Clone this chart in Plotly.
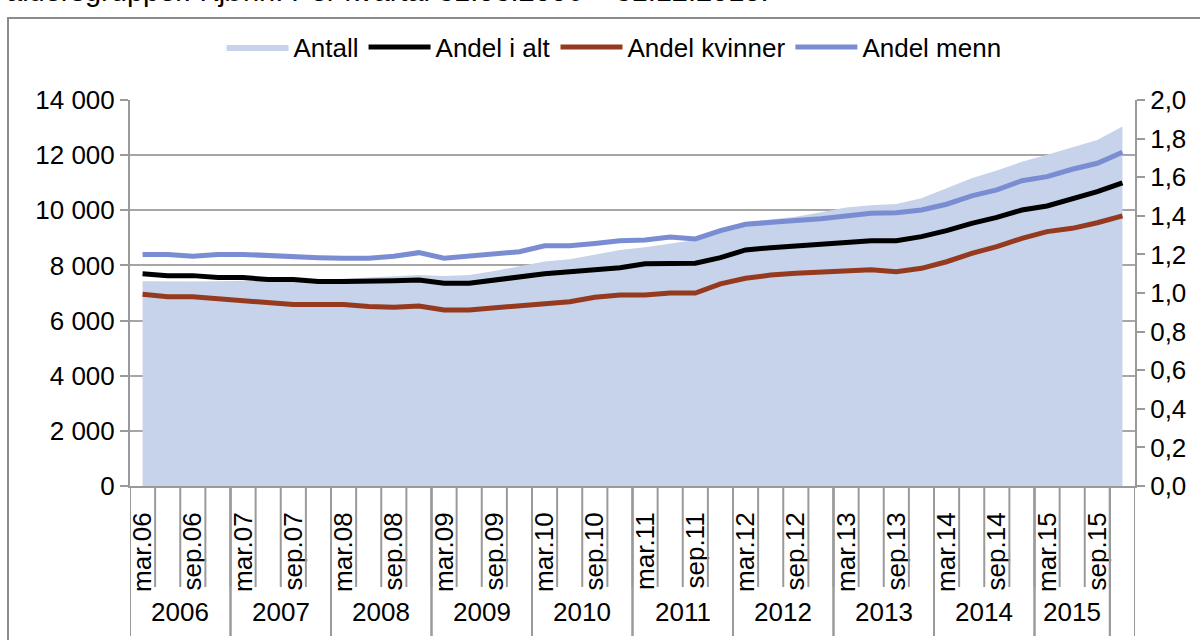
import plotly.graph_objects as go

# ---------------- data ----------------
quarters = [
    "mar.06", "jun.06", "sep.06", "des.06",
    "mar.07", "jun.07", "sep.07", "des.07",
    "mar.08", "jun.08", "sep.08", "des.08",
    "mar.09", "jun.09", "sep.09", "des.09",
    "mar.10", "jun.10", "sep.10", "des.10",
    "mar.11", "jun.11", "sep.11", "des.11",
    "mar.12", "jun.12", "sep.12", "des.12",
    "mar.13", "jun.13", "sep.13", "des.13",
    "mar.14", "jun.14", "sep.14", "des.14",
    "mar.15", "jun.15", "sep.15", "des.15",
]
year_group = (
    ["2006"] * 4 + ["2007"] * 4 + ["2008"] * 4 + ["2009"] * 4 + ["2010"] * 4
    + ["2011"] * 4 + ["2012"] * 4 + ["2013"] * 4 + ["2014"] * 4
    + ["2015"] * 3 + [""]
)
shown_ticks = [q for q in quarters if q.startswith("mar") or q.startswith("sep")]

antall = [
    7430, 7420, 7420, 7430, 7440, 7450, 7470, 7490, 7520, 7560,
    7620, 7650, 7620, 7650, 7800, 7980, 8140, 8220, 8400, 8560,
    8660, 8800, 8920, 9220, 9550, 9670, 9770, 9930, 10100, 10180,
    10230, 10435, 10800, 11160, 11440, 11760, 12010, 12290, 12550, 13040,
]
andel_alt = [
    1.10, 1.09, 1.09, 1.08, 1.08, 1.07, 1.07, 1.06, 1.06, 1.06,
    1.064, 1.067, 1.05, 1.05, 1.067, 1.088, 1.10, 1.11, 1.119, 1.131,
    1.152, 1.154, 1.154, 1.183, 1.223, 1.235, 1.244, 1.254, 1.264, 1.271,
    1.271, 1.292, 1.323, 1.361, 1.392, 1.43, 1.451, 1.49, 1.525, 1.571,
]
andel_kvinner = [
    0.993, 0.98, 0.98, 0.97, 0.96, 0.95, 0.94, 0.94, 0.94, 0.93,
    0.926, 0.933, 0.912, 0.912, 0.922, 0.933, 0.943, 0.955, 0.978, 0.99,
    0.99, 1.00, 1.00, 1.047, 1.076, 1.093, 1.102, 1.11, 1.114, 1.12,
    1.11, 1.128, 1.162, 1.205, 1.24, 1.283, 1.318, 1.335, 1.364, 1.40,
]
andel_menn = [
    1.20, 1.20, 1.19, 1.20, 1.20, 1.193, 1.19, 1.183, 1.18, 1.18,
    1.19, 1.209, 1.18, 1.19, 1.20, 1.214, 1.245, 1.245, 1.257, 1.271,
    1.275, 1.29, 1.28, 1.323, 1.356, 1.368, 1.376, 1.385, 1.402, 1.413,
    1.416, 1.43, 1.46, 1.503, 1.534, 1.582, 1.603, 1.641, 1.672, 1.729,
]

title_text = "aldersgrupper. Kjønn. Per kvartal 31.03.2006 – 31.12.2015."

# ---------------- styling ----------------
FONT = "Liberation Sans, Arial, sans-serif"
FS = 26
AXIS_GRAY = "#9A9A9A"
AREA_COLOR = "#C6D3EA"
C_ALT = "#000000"
C_KV = "#953A1E"
C_MENN = "#7A8DD2"

x_idx = list(range(len(quarters)))

fig = go.Figure()
fig.add_trace(go.Scatter(
    x=x_idx, y=antall, name="Antall", mode="lines",
    line=dict(width=0, color=AREA_COLOR), fill="tozeroy", fillcolor=AREA_COLOR,
    yaxis="y",
))
fig.add_trace(go.Scatter(x=x_idx, y=andel_alt, name="Andel i alt", mode="lines",
                         line=dict(color=C_ALT, width=5), yaxis="y2"))
fig.add_trace(go.Scatter(x=x_idx, y=andel_kvinner, name="Andel kvinner", mode="lines",
                         line=dict(color=C_KV, width=5), yaxis="y2"))
fig.add_trace(go.Scatter(x=x_idx, y=andel_menn, name="Andel menn", mode="lines",
                         line=dict(color=C_MENN, width=5), yaxis="y2"))

tickvals = [quarters.index(t) for t in shown_ticks]

W, H = 1200, 640
# target plot area in screen pixels: x 130..1135, y 100..486
ML, MT = 130, 100
MR = W - 1135
MB = H - 486
PH = H - MT - MB
PW = W - ML - MR


def py2paper(py):  # screen pixel y -> paper
    return (H - MB - py) / PH


def px2paper(px):  # screen pixel x -> paper
    return (px - ML) / PW


shapes = []
annotations = []
# category boundary lines in label row
for b in range(len(quarters) + 1):
    shapes.append(dict(type="line", xref="x", yref="paper", x0=b - 0.5, x1=b - 0.5,
                       y0=0, y1=py2paper(587), line=dict(color=AXIS_GRAY, width=2)))
# year group separators and labels
groups = []
start = 0
for i in range(1, len(year_group) + 1):
    if i == len(year_group) or year_group[i] != year_group[start]:
        groups.append((year_group[start], start, i - 1))
        start = i
for name, s, e in groups:
    for b in (s - 0.5, e + 0.5):
        shapes.append(dict(type="line", xref="x", yref="paper", x0=b, x1=b,
                           y0=0, y1=py2paper(636), line=dict(color=AXIS_GRAY, width=2)))
    if name:
        annotations.append(dict(x=(s + e) / 2, y=py2paper(612), xref="x", yref="paper",
                                text=name, showarrow=False,
                                font=dict(family=FONT, size=FS, color="black"),
                                xanchor="center", yanchor="middle"))

# outer chart border
shapes.append(dict(type="rect", xref="paper", yref="paper",
                   x0=px2paper(8), x1=px2paper(1260), y0=py2paper(18), y1=py2paper(700),
                   line=dict(color="#8C8C8C", width=2), fillcolor="rgba(0,0,0,0)",
                   layer="below"))

# title of the page, cut off at the top as in the original snapshot
annotations.append(dict(x=px2paper(4), y=py2paper(9), xref="paper", yref="paper",
                        text=title_text, showarrow=False, xanchor="left", yanchor="bottom",
                        font=dict(family=FONT, size=29, color="black")))

fig.update_layout(
    template="none",
    width=W, height=H, autosize=False,
    margin=dict(l=ML, r=MR, t=MT, b=MB, pad=0),
    paper_bgcolor="white", plot_bgcolor="white",
    separators=", ",
    font=dict(family=FONT, size=FS, color="black"),
    showlegend=True,
    legend=dict(orientation="h", x=px2paper(614), xanchor="center",
                y=py2paper(47), yanchor="middle",
                font=dict(family=FONT, size=FS, color="black"),
                bgcolor="rgba(0,0,0,0)", itemwidth=62, tracegroupgap=0),
    xaxis=dict(
        range=[-0.5, len(quarters) - 0.5], tickmode="array", tickvals=tickvals,
        ticktext=shown_ticks, tickangle=-90, ticks="", showgrid=False,
        showline=True, linecolor=AXIS_GRAY, linewidth=2, zeroline=False,
        automargin=False,
        ticklabelstandoff=14, tickfont=dict(family=FONT, size=FS, color="black"),
    ),
    yaxis=dict(
        range=[0, 14000], dtick=2000, tick0=0, tickformat=",d",
        showgrid=True, gridcolor="#A6A6A6", gridwidth=2,
        showline=True, linecolor=AXIS_GRAY, linewidth=2,
        ticks="outside", ticklen=8, tickwidth=2, tickcolor=AXIS_GRAY,
        zeroline=False, automargin=False,
        tickfont=dict(family=FONT, size=FS, color="black"),
    ),
    yaxis2=dict(
        range=[0, 2.0], dtick=0.2, tick0=0, tickformat=".1f",
        overlaying="y", side="right", showgrid=False,
        showline=True, linecolor=AXIS_GRAY, linewidth=2,
        ticks="outside", ticklen=8, tickwidth=2, tickcolor=AXIS_GRAY,
        zeroline=False, automargin=False,
        tickfont=dict(family=FONT, size=FS, color="black"),
    ),
    shapes=shapes,
    annotations=annotations,
)

# remove the default 8px page margin so the figure sits at the window's corner
fig.write_html(
    "out.html",
    config={"displayModeBar": False},
    post_script="document.body.style.margin='0';document.body.style.overflow='hidden';",
)
